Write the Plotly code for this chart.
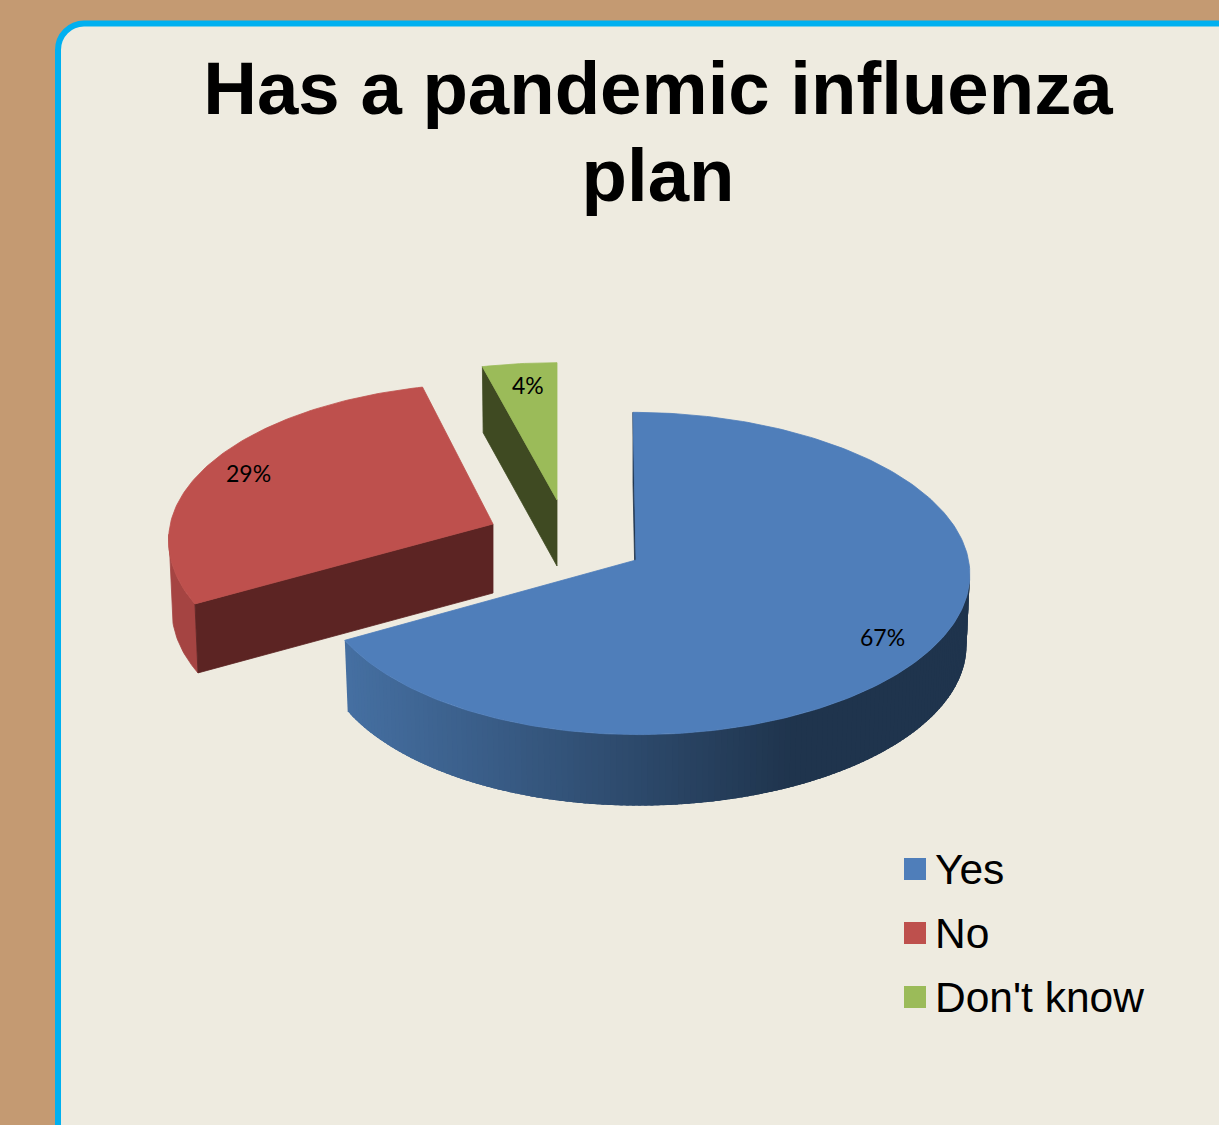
import math
import plotly.graph_objects as go

# ---- data ----
categories = ["Yes", "No", "Don't know"]
values = [67, 29, 4]
title_lines = ["Has a pandemic influenza", "plan"]

# ---- styling / projection constants ----
top_colors = ["#4F7EBA", "#BE504D", "#9BBB59"]
cut_colors = ["#1F344D", "#5C2423", "#3F4A22"]
rim_colors = [None, "#A54442", "#6F8640"]
rim_left, rim_right = (0x45, 0x6F, 0xA1), (0x1F, 0x34, 0x4D)
APEX = [(636, 560), (493, 524), (557, 500)]
SCALE_X = [1.0, 1.01, 1.0]
SCALE_FRONT = [1.0, 0.995, 0.93]
SCALE_BACK = [1.0, 0.955, 0.93]
SKEW = [3.0, -5.0, 0.0]
LABEL_POS = [(882.5, 636.5), (248.5, 472.5), (528, 384.5)]
LEG_X, LEG_Y, LEG_STEP = 915, 869, 64
A, C, B, P = 326.0, 6.5, 160.0, 0.0836
DEPTH = [71, 69, 66]
SHRINK = 0.99
W, H = 1219, 1125


def project(i, theta, r=1.0, low=False):
    """Project a point of slice i (angle in degrees, clockwise from top) to the page."""
    t = math.radians(theta)
    u, v = r * math.sin(t), -r * math.cos(t)
    s = 1 / (1 - P * v)
    dx = (A * u * s + C * u * u) * SCALE_X[i] + SKEW[i] * v
    dy = B * v * s * (SCALE_FRONT[i] if v > 0 else SCALE_BACK[i])
    if low:
        return APEX[i][0] + dx * SHRINK, APEX[i][1] + dy + DEPTH[i]
    return APEX[i][0] + dx, APEX[i][1] + dy


def poly(points, color, name=None, edge=True):
    xs = [p[0] for p in points] + [points[0][0]]
    ys = [p[1] for p in points] + [points[0][1]]
    line = dict(color=color, width=0.8) if edge else dict(color="rgba(0,0,0,0)", width=0)
    return go.Scatter(x=xs, y=ys, mode="lines", fill="toself", fillcolor=color,
                      line=line, hoverinfo="skip", showlegend=False, name=name)


def frange(a, b, step):
    n = max(1, int(round((b - a) / step)))
    return [a + (b - a) * k / n for k in range(n + 1)]


total = sum(values)
spans, acc = [], 0
for val in values:
    spans.append((acc / total * 360, (acc + val) / total * 360))
    acc += val

fig = go.Figure()

# slices are drawn back to front: rim, cut face, then top
for i in [2, 1, 0]:
    a0, a1 = spans[i]
    # outer rim: the front-facing part, ending where its silhouette is tangent
    angs = [a for a in frange(a0, a1, 1.0) if -math.cos(math.radians(a)) > 0.06]
    if i == 0:
        for p, q in zip(angs[:-1], angs[1:]):
            x_mid = project(i, (p + q) / 2)[0]
            t = min(1, max(0, (x_mid - 344) / (785 - 344)))
            col = tuple(round(rim_left[k] + (rim_right[k] - rim_left[k]) * t) for k in range(3))
            back = max(angs[0], p - 1.5)  # each band overlaps the previous one so no seams appear
            fig.add_trace(poly([project(i, back), project(i, q), project(i, q, low=True), project(i, back, low=True)],
                               "rgb(%d,%d,%d)" % col, edge=False))
    elif angs:
        fig.add_trace(poly([project(i, a) for a in angs] + [project(i, a, low=True) for a in reversed(angs)],
                           rim_colors[i]))
    # visible cut face
    fig.add_trace(poly([project(i, a0, 0), project(i, a0),
                        project(i, a0, low=True), project(i, a0, 0, low=True)], cut_colors[i]))
    # top surface
    fig.add_trace(poly([project(i, a0, 0)] + [project(i, a) for a in frange(a0, a1, 1.0)], top_colors[i], categories[i]))

# legend swatches
fig.add_trace(go.Scatter(
    x=[LEG_X] * 3, y=[LEG_Y + LEG_STEP * k for k in range(3)], mode="markers",
    marker=dict(symbol="square", size=22, color=top_colors, line=dict(width=0)),
    hoverinfo="skip", showlegend=False))

annotations = []
for k, name in enumerate(categories):
    annotations.append(dict(x=933, y=LEG_Y + LEG_STEP * k + 0.5, text=name, showarrow=False, xanchor="left",
                            yanchor="middle", font=dict(family="Liberation Sans", size=42.5, color="#000000")))
for k, val in enumerate(values):
    annotations.append(dict(x=LABEL_POS[k][0], y=LABEL_POS[k][1], text=f"{val}%", showarrow=False,
                            font=dict(family="Lato", size=23, color="#000000")))

panel = dict(type="path", layer="below", xref="x", yref="y",
             path="M 58 1140 L 58 50 C 58 35 70 23.5 84 23.5 L 1235 23.5 L 1235 1140 Z",
             fillcolor="#EEEBE0", line=dict(color="#00B0F0", width=6))

# outer font size sets the line spacing (87 px); the span sets the glyph size
title_text = "<br>".join(f'<span style="font-size:74.4px">{t}</span>' for t in title_lines)

fig.update_layout(
    width=W, height=H, autosize=False,
    margin=dict(l=0, r=0, t=0, b=0),
    paper_bgcolor="#C49A72", plot_bgcolor="rgba(0,0,0,0)",
    xaxis=dict(range=[0, W], visible=False, fixedrange=True),
    yaxis=dict(range=[H, 0], visible=False, fixedrange=True),
    shapes=[panel], annotations=annotations, showlegend=False,
    title=dict(text=title_text, xref="paper", yref="paper", x=658 / W, xanchor="center",
               y=1 - 114 / H, yanchor="top",
               font=dict(family="Liberation Sans", size=67, color="#000000", weight=700)),
)

fig.write_html("out.html", config={"displayModeBar": False},
               post_script="document.body.style.margin='0';document.body.style.overflow='hidden';")
